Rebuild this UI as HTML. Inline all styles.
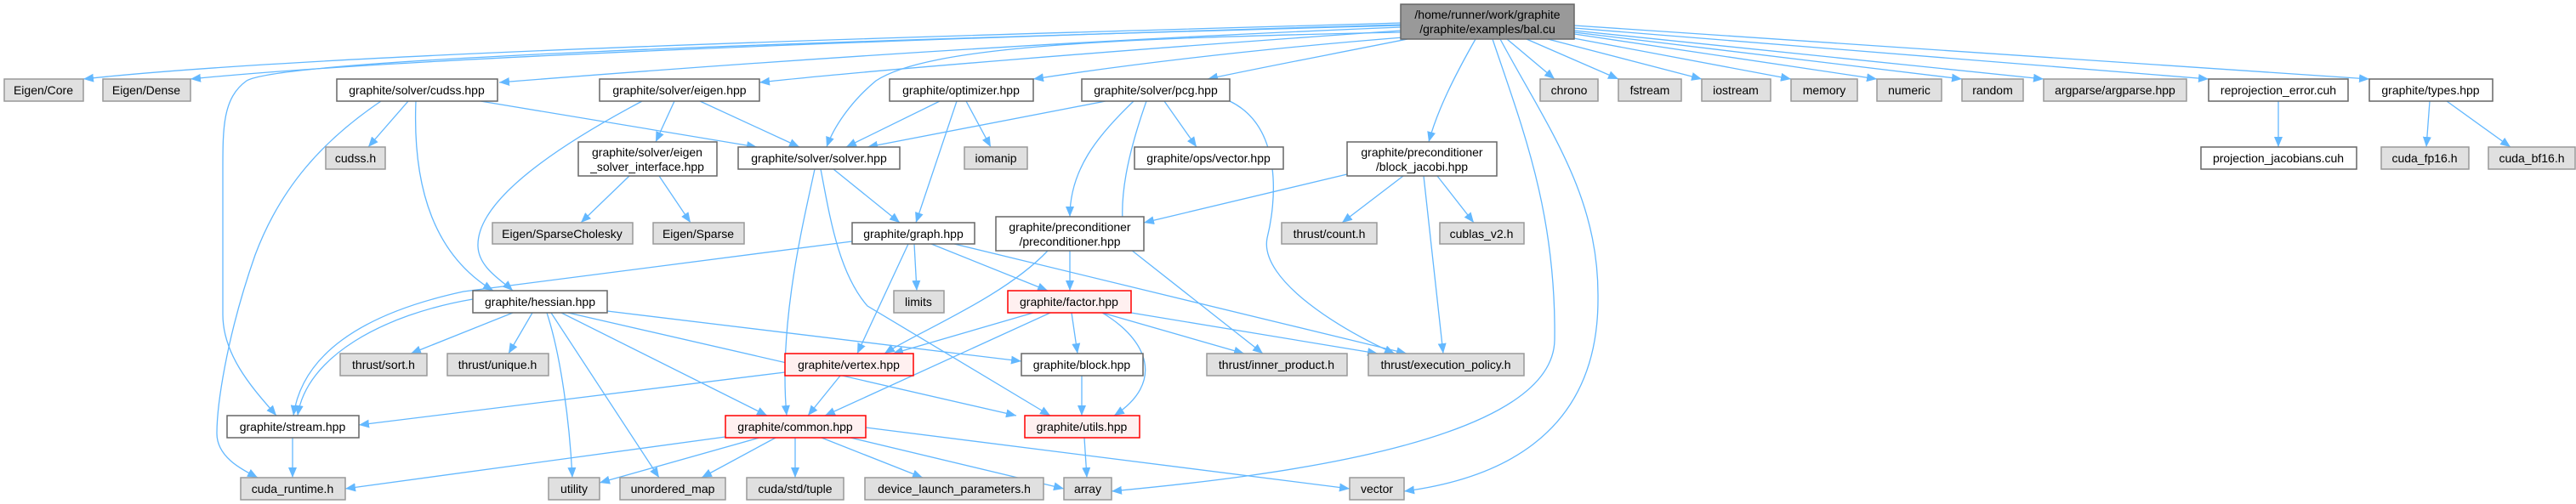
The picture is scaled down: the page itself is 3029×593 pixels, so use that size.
<!DOCTYPE html>
<html><head><meta charset="utf-8"><style>
html,body{margin:0;padding:0;background:#fff;}
svg{display:block;}
text{font-family:"Liberation Sans",sans-serif;font-size:14px;fill:#000;}
.e{fill:none;stroke:#63b8ff;stroke-width:1.3;marker-end:url(#a);}
.n{fill:#fff;stroke:#666;stroke-width:1.5;}
.x{fill:#e0e0e0;stroke:#999;stroke-width:1.5;}
.r{fill:#fff0f0;stroke:#f00;stroke-width:1.5;}
.t{fill:#999;stroke:#666;stroke-width:1.5;}
</style></head><body>
<svg width="3029" height="593" viewBox="0 0 3029 593" xmlns="http://www.w3.org/2000/svg">
<defs><marker id="a" markerUnits="userSpaceOnUse" markerWidth="14" markerHeight="12" refX="12" refY="5" orient="auto"><path d="M0,0 L12,5 L0,10 z" fill="#63b8ff"/></marker></defs>
<g>
<path class="e" d="M1647,27 C1200,40 400,60 98,93"/>
<path class="e" d="M1647,29 C1200,42 500,65 224,93"/>
<path class="e" d="M1647,30 C900,50 330,70 290,95 C262,115 262,150 262,200 L262,370 C262,420 300,460 325,489"/>
<path class="e" d="M1647,32 C1200,50 800,80 587,97"/>
<path class="e" d="M1647,36 C1300,60 1000,85 893,97"/>
<path class="e" d="M1647,38 C1300,45 1090,55 1030,95 C1000,120 980,150 972,173"/>
<path class="e" d="M1650,44 C1450,60 1300,80 1215,93"/>
<path class="e" d="M1655,46 C1560,65 1480,80 1420,93"/>
<path class="e" d="M1735,46 C1710,90 1690,130 1680,167"/>
<path class="e" d="M1755,46 C1790,150 1830,250 1828,400 C1826,520 1500,560 1307,578"/>
<path class="e" d="M1764,46 C1820,150 1880,230 1879,350 C1880,520 1750,565 1651,578"/>
<path class="e" d="M1772,46 L1828,93"/>
<path class="e" d="M1795,46 L1903,93"/>
<path class="e" d="M1820,46 L2001,93"/>
<path class="e" d="M1845,44 L2106,93"/>
<path class="e" d="M1851,40 L2207,93"/>
<path class="e" d="M1851,38 L2307,93"/>
<path class="e" d="M1851,36 L2403,93"/>
<path class="e" d="M1851,33 L2597,93"/>
<path class="e" d="M1851,30 L2786,93"/>
<path class="e" d="M448,119 C380,165 330,220 300,300 C265,400 255,480 255,510 C255,540 290,555 303,562"/>
<path class="e" d="M480,119 L433,173"/>
<path class="e" d="M489,119 C485,220 510,300 580,342"/>
<path class="e" d="M565,119 L890,173"/>
<path class="e" d="M755,119 C640,180 560,240 562,290 C563,315 590,330 603,342"/>
<path class="e" d="M793,119 L771,167"/>
<path class="e" d="M823,119 L940,173"/>
<path class="e" d="M740,207 L683,262"/>
<path class="e" d="M775,207 L812,262"/>
<path class="e" d="M1105,119 L995,173"/>
<path class="e" d="M1125,119 L1077,262"/>
<path class="e" d="M1136,119 L1165,173"/>
<path class="e" d="M1300,119 L1020,173"/>
<path class="e" d="M1369,119 L1407,173"/>
<path class="e" d="M1333,119 C1290,160 1258,200 1258,255"/>
<path class="e" d="M1348,119 C1330,170 1310,240 1325,290 L1485,416"/>
<path class="e" d="M1446,119 C1510,150 1500,240 1490,280 C1480,330 1580,390 1640,416"/>
<path class="e" d="M1584,205 L1345,262"/>
<path class="e" d="M1650,207 L1578,262"/>
<path class="e" d="M1690,207 L1733,262"/>
<path class="e" d="M1674,207 L1697,416"/>
<path class="e" d="M980,199 L1058,262"/>
<path class="e" d="M958,199 C945,260 915,380 925,489"/>
<path class="e" d="M965,199 C975,250 985,320 1020,360 L1235,489"/>
<path class="e" d="M1002,284 L545,343 C420,370 355,420 345,489"/>
<path class="e" d="M1075,287 L1078,342"/>
<path class="e" d="M1095,287 L1232,342"/>
<path class="e" d="M1068,287 L1008,416"/>
<path class="e" d="M1122,287 L1654,416"/>
<path class="e" d="M1232,295 C1180,350 1080,390 1040,416"/>
<path class="e" d="M1258,295 L1258,342"/>
<path class="e" d="M1215,368 L1050,416"/>
<path class="e" d="M1235,368 L970,489"/>
<path class="e" d="M1260,368 L1267,416"/>
<path class="e" d="M1296,368 C1350,400 1370,450 1310,489"/>
<path class="e" d="M1296,368 L1463,416"/>
<path class="e" d="M1330,368 L1620,416"/>
<path class="e" d="M556,352 C450,370 360,420 350,489"/>
<path class="e" d="M603,368 L483,416"/>
<path class="e" d="M626,368 L598,416"/>
<path class="e" d="M643,368 C660,420 670,500 673,562"/>
<path class="e" d="M648,368 L775,562"/>
<path class="e" d="M660,368 L902,489"/>
<path class="e" d="M668,368 L1195,489"/>
<path class="e" d="M714,366 L1201,425"/>
<path class="e" d="M923,438 L422,500"/>
<path class="e" d="M988,442 L950,489"/>
<path class="e" d="M1272,442 L1272,489"/>
<path class="e" d="M344,515 L344,562"/>
<path class="e" d="M853,514 L406,575"/>
<path class="e" d="M893,515 L705,568"/>
<path class="e" d="M912,515 L825,562"/>
<path class="e" d="M935,515 L935,562"/>
<path class="e" d="M966,515 L1085,562"/>
<path class="e" d="M1000,515 L1251,575"/>
<path class="e" d="M1018,503 L1587,575"/>
<path class="e" d="M1275,515 L1278,562"/>
<path class="e" d="M2679,119 L2679,173"/>
<path class="e" d="M2857,119 L2853,173"/>
<path class="e" d="M2877,119 L2952,173"/>
</g>
<g text-anchor="middle">
<rect class="t" x="1647" y="5" width="204" height="41"/><text x="1749" y="22">/home/runner/work/graphite</text><text x="1749" y="39">/graphite/examples/bal.cu</text>
<rect class="x" x="5" y="93" width="93" height="26"/><text x="51" y="111">Eigen/Core</text>
<rect class="x" x="121" y="93" width="103" height="26"/><text x="172" y="111">Eigen/Dense</text>
<rect class="n" x="396" y="93" width="189" height="26"/><text x="490" y="111">graphite/solver/cudss.hpp</text>
<rect class="n" x="705" y="93" width="188" height="26"/><text x="799" y="111">graphite/solver/eigen.hpp</text>
<rect class="n" x="1046" y="93" width="169" height="26"/><text x="1130" y="111">graphite/optimizer.hpp</text>
<rect class="n" x="1272" y="93" width="174" height="26"/><text x="1359" y="111">graphite/solver/pcg.hpp</text>
<rect class="x" x="1811" y="93" width="68" height="26"/><text x="1845" y="111">chrono</text>
<rect class="x" x="1903" y="93" width="74" height="26"/><text x="1940" y="111">fstream</text>
<rect class="x" x="2001" y="93" width="81" height="26"/><text x="2041" y="111">iostream</text>
<rect class="x" x="2106" y="93" width="78" height="26"/><text x="2145" y="111">memory</text>
<rect class="x" x="2207" y="93" width="76" height="26"/><text x="2245" y="111">numeric</text>
<rect class="x" x="2307" y="93" width="72" height="26"/><text x="2343" y="111">random</text>
<rect class="x" x="2403" y="93" width="168" height="26"/><text x="2487" y="111">argparse/argparse.hpp</text>
<rect class="n" x="2597" y="93" width="164" height="26"/><text x="2679" y="111">reprojection_error.cuh</text>
<rect class="n" x="2786" y="93" width="145" height="26"/><text x="2858" y="111">graphite/types.hpp</text>
<rect class="x" x="383" y="173" width="70" height="26"/><text x="418" y="191">cudss.h</text>
<rect class="n" x="680" y="167" width="163" height="40"/><text x="761" y="184">graphite/solver/eigen</text><text x="761" y="201">_solver_interface.hpp</text>
<rect class="n" x="868" y="173" width="190" height="26"/><text x="963" y="191">graphite/solver/solver.hpp</text>
<rect class="x" x="1134" y="173" width="74" height="26"/><text x="1171" y="191">iomanip</text>
<rect class="n" x="1334" y="173" width="175" height="26"/><text x="1421" y="191">graphite/ops/vector.hpp</text>
<rect class="n" x="1584" y="167" width="176" height="40"/><text x="1672" y="184">graphite/preconditioner</text><text x="1672" y="201">/block_jacobi.hpp</text>
<rect class="n" x="2588" y="173" width="183" height="26"/><text x="2679" y="191">projection_jacobians.cuh</text>
<rect class="x" x="2800" y="173" width="103" height="26"/><text x="2851" y="191">cuda_fp16.h</text>
<rect class="x" x="2926" y="173" width="102" height="26"/><text x="2977" y="191">cuda_bf16.h</text>
<rect class="x" x="579" y="262" width="165" height="25"/><text x="661" y="280">Eigen/SparseCholesky</text>
<rect class="x" x="768" y="262" width="107" height="25"/><text x="821" y="280">Eigen/Sparse</text>
<rect class="n" x="1002" y="262" width="144" height="25"/><text x="1074" y="280">graphite/graph.hpp</text>
<rect class="n" x="1171" y="255" width="174" height="40"/><text x="1258" y="272">graphite/preconditioner</text><text x="1258" y="289">/preconditioner.hpp</text>
<rect class="x" x="1507" y="262" width="112" height="25"/><text x="1563" y="280">thrust/count.h</text>
<rect class="x" x="1693" y="262" width="99" height="25"/><text x="1742" y="280">cublas_v2.h</text>
<rect class="n" x="556" y="342" width="158" height="26"/><text x="635" y="360">graphite/hessian.hpp</text>
<rect class="x" x="1051" y="342" width="59" height="26"/><text x="1080" y="360">limits</text>
<rect class="r" x="1185" y="342" width="145" height="26"/><text x="1257" y="360">graphite/factor.hpp</text>
<rect class="x" x="400" y="416" width="102" height="26"/><text x="451" y="434">thrust/sort.h</text>
<rect class="x" x="526" y="416" width="119" height="26"/><text x="585" y="434">thrust/unique.h</text>
<rect class="r" x="923" y="416" width="151" height="26"/><text x="998" y="434">graphite/vertex.hpp</text>
<rect class="n" x="1201" y="416" width="143" height="26"/><text x="1272" y="434">graphite/block.hpp</text>
<rect class="x" x="1419" y="416" width="165" height="26"/><text x="1501" y="434">thrust/inner_product.h</text>
<rect class="x" x="1609" y="416" width="183" height="26"/><text x="1700" y="434">thrust/execution_policy.h</text>
<rect class="n" x="267" y="489" width="155" height="26"/><text x="344" y="507">graphite/stream.hpp</text>
<rect class="r" x="853" y="489" width="165" height="26"/><text x="935" y="507">graphite/common.hpp</text>
<rect class="r" x="1205" y="489" width="135" height="26"/><text x="1272" y="507">graphite/utils.hpp</text>
<rect class="x" x="283" y="562" width="123" height="26"/><text x="344" y="580">cuda_runtime.h</text>
<rect class="x" x="645" y="562" width="60" height="26"/><text x="675" y="580">utility</text>
<rect class="x" x="729" y="562" width="124" height="26"/><text x="791" y="580">unordered_map</text>
<rect class="x" x="878" y="562" width="114" height="26"/><text x="935" y="580">cuda/std/tuple</text>
<rect class="x" x="1017" y="562" width="210" height="26"/><text x="1122" y="580">device_launch_parameters.h</text>
<rect class="x" x="1251" y="562" width="56" height="26"/><text x="1279" y="580">array</text>
<rect class="x" x="1587" y="562" width="64" height="26"/><text x="1619" y="580">vector</text>
</g>
</svg>
</body></html>
